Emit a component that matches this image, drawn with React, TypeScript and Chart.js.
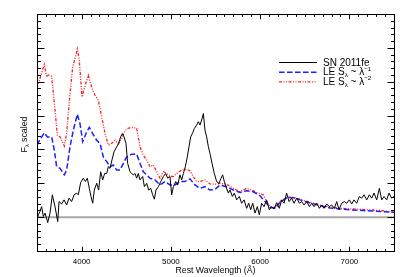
import { useEffect, useRef } from 'react';
import { Chart, registerables } from 'chart.js';
Chart.register(...registerables);

const xRange = [3500, 7500];
const yRange = [-1, 6];
const xTickLabels = [4000, 5000, 6000, 7000];
const zeroLevel = 0;

const snWave = [3500,3515,3534,3552,3571,3590,3620,3646,3672,3702,3732,3747,3776,3803,3832,3859,3888,3915,3944,3963,3989,4019,4042,4064,4086,4105,4124,4142,4169,4191,4213,4236,4258,4281,4299,4318,4340,4363,4393,4415,4437,4456,4475,4497,4516,4542,4561,4579,4598,4617,4635,4654,4684,4703,4729,4751,4774,4796,4815,4833,4860,4886,4916,4942,4964,4990,5009,5028,5054,5076,5102,5121,5140,5162,5184,5203,5222,5244,5263,5289,5308,5326,5345,5364,5382,5401,5420,5438,5461,5487,5513,5539,5562,5580,5599,5618,5644,5663,5689,5711,5737,5767,5793,5820,5849,5872,5894,5917,5943,5969,5991,6017,6044,6073,6103,6129,6156,6186,6215,6241,6268,6297,6324,6354,6380,6410,6439,6466,6492,6522,6552,6578,6604,6634,6664,6690,6716,6746,6776,6802,6832,6858,6884,6914,6944,6970,7000,7026,7052,7082,7112,7138,7164,7194,7224,7250,7276,7306,7336,7362,7388,7418,7444,7474,7500];
const snFlux = [-0.08,0.07,0.17,0.31,0.02,0.12,-0.16,0.12,0.66,0.31,-0.13,0.46,0.39,0.51,0.36,0.56,0.46,0.66,0.71,0.66,1.02,1.15,1.05,1.15,0.85,0.61,0.41,0.8,1.0,0.8,1.34,1.1,1.29,1.29,1.49,1.44,1.69,1.93,2.08,2.18,2.37,2.47,2.37,2.18,1.59,1.34,1.29,1.25,1.29,1.15,1.29,1.1,1.2,0.9,1.0,0.8,0.85,0.66,0.53,0.8,0.9,1.05,1.2,1.29,1.15,1.2,0.66,0.9,1.05,0.95,1.25,1.1,1.29,1.49,1.78,2.08,2.37,2.49,2.62,2.72,2.82,2.72,2.87,3.06,2.57,2.37,2.08,1.88,1.59,1.29,1.05,1.0,1.15,1.25,1.05,0.9,0.71,0.8,0.61,0.71,0.51,0.61,0.41,0.51,0.26,0.41,0.22,0.41,0.12,0.31,0.07,0.41,0.31,0.51,0.22,0.31,0.24,0.43,0.26,0.51,0.41,0.71,0.46,0.56,0.41,0.56,0.41,0.46,0.36,0.46,0.31,0.41,0.31,0.41,0.26,0.36,0.26,0.39,0.31,0.36,0.26,0.46,0.22,0.41,0.46,0.41,0.51,0.39,0.51,0.41,0.61,0.56,0.66,0.51,0.66,0.56,0.71,0.51,0.85,0.51,0.61,0.51,0.71,0.56,0.61];

const le1Wave = [3500,3534,3582,3616,3664,3694,3720,3758,3806,3832,3870,3907,3952,3982,4012,4049,4086,4124,4169,4206,4243,4281,4318,4355,4393,4430,4467,4505,4561,4617,4654,4691,4729,4766,4822,4878,4934,4990,5046,5102,5158,5214,5270,5326,5382,5438,5494,5550,5625,5700,5775,5849,5924,5999,6055,6111,6167,6223,6297,6372,6447,6559,6671,6783,6895,7044,7194,7343,7500];
const le1Flux = [2.13,2.29,2.49,2.37,2.37,1.98,1.49,1.44,1.25,1.39,2.08,2.57,3.04,2.76,2.23,2.47,2.65,2.47,2.27,2.18,1.78,1.64,1.49,1.54,1.39,1.39,1.59,1.78,1.86,1.86,1.59,1.34,1.25,1.15,1.1,0.95,1.05,0.95,0.95,1.05,1.05,1.13,0.95,0.85,0.9,0.8,0.82,0.95,0.9,0.8,0.73,0.78,0.75,0.63,0.46,0.29,0.26,0.43,0.57,0.57,0.51,0.42,0.34,0.27,0.24,0.21,0.19,0.17,0.14];

const le2Wave = [3500,3582,3608,3627,3664,3702,3728,3758,3806,3832,3870,3900,3930,3952,3974,4004,4034,4075,4112,4150,4187,4225,4262,4299,4337,4374,4411,4449,4486,4523,4579,4617,4654,4691,4729,4766,4803,4841,4878,4916,4953,4990,5028,5065,5121,5177,5214,5251,5289,5326,5382,5438,5494,5550,5625,5700,5775,5849,5905,5961,6036,6073,6118,6167,6223,6297,6372,6447,6559,6671,6783,6895,7044,7194,7343,7500];
const le2Flux = [3.82,4.51,4.14,4.2,4.16,3.16,2.42,2.37,2.1,2.47,3.65,4.43,4.73,4.97,4.63,3.55,3.84,4.19,3.84,3.6,3.45,2.96,2.47,2.13,2.18,2.27,2.16,2.32,2.55,2.63,2.65,2.62,2.08,1.83,1.69,1.49,1.54,1.34,1.15,1.34,1.29,1.2,1.2,1.29,1.39,1.41,1.37,1.2,1.05,1.05,1.1,0.98,0.97,1.0,0.97,0.85,0.75,0.85,0.8,0.73,0.66,0.46,0.29,0.29,0.46,0.59,0.59,0.53,0.44,0.36,0.29,0.26,0.24,0.22,0.2,0.15];

type Part = { t: string; sub?: boolean; sup?: boolean };
const legendSN: Part[] = [{ t: 'SN 2011fe' }];
const legendLE1: Part[] = [{ t: 'LE S' }, { t: 'λ', sub: true }, { t: ' ~ λ' }, { t: '−1', sup: true }];
const legendLE2: Part[] = [{ t: 'LE S' }, { t: 'λ', sub: true }, { t: ' ~ λ' }, { t: '−2', sup: true }];
const xTitle = 'Rest Wavelength (Å)';
const yTitle: Part[] = [{ t: 'F' }, { t: 'λ', sub: true }, { t: ' scaled' }];

const FONT = '"Liberation Sans", Arial, Helvetica, sans-serif';

function pts(w: number[], f: number[]) {
  return w.map((x, i) => ({ x, y: f[i] }));
}

function drawParts(ctx: CanvasRenderingContext2D, parts: Part[], x: number, y: number, size: number) {
  let cx = x;
  for (const p of parts) {
    const s = p.sub || p.sup ? size * 0.62 : size;
    ctx.font = `${s}px ${FONT}`;
    const dy = p.sub ? size * 0.3 : p.sup ? -size * 0.38 : 0;
    ctx.fillText(p.t, cx, y + dy);
    cx += ctx.measureText(p.t).width;
  }
  return cx - x;
}

function partsWidth(ctx: CanvasRenderingContext2D, parts: Part[], size: number) {
  let w = 0;
  for (const p of parts) {
    const s = p.sub || p.sup ? size * 0.62 : size;
    ctx.font = `${s}px ${FONT}`;
    w += ctx.measureText(p.t).width;
  }
  return w;
}

const framePlugin = {
  id: 'idlFrame',
  afterDatasetsDraw(chart: any) {
    const { ctx, chartArea: a, scales } = chart;
    const xs = scales.x;
    const ys = scales.y;
    const L = Math.round(a.left) + 0.5;
    const R = Math.round(a.right) + 0.5;
    const T = Math.round(a.top) + 0.5;
    const B = Math.round(a.bottom) + 0.5;
    ctx.save();
    ctx.strokeStyle = '#000';
    ctx.lineWidth = 1;
    ctx.strokeRect(L, T, R - L, B - T);
    ctx.beginPath();
    // x ticks (bottom and top), minor every 100
    for (let i = 36; i <= 74; i++) {
      const v = i * 100;
      const px = Math.round(xs.getPixelForValue(v)) + 0.5;
      const len = v % 1000 === 0 ? 4.7 : 2.4;
      ctx.moveTo(px, B);
      ctx.lineTo(px, B - len);
      ctx.moveTo(px, T);
      ctx.lineTo(px, T + len);
    }
    // y ticks (left and right), minor every 0.2
    for (let i = -4; i <= 29; i++) {
      const v = i / 5;
      const py = Math.round(ys.getPixelForValue(v)) + 0.5;
      const len = i % 5 === 0 ? 7 : 3.5;
      ctx.moveTo(L, py);
      ctx.lineTo(L + len, py);
      ctx.moveTo(R, py);
      ctx.lineTo(R - len, py);
    }
    ctx.stroke();

    // tick labels
    ctx.fillStyle = '#000';
    ctx.textAlign = 'center';
    ctx.textBaseline = 'middle';
    ctx.font = `8px ${FONT}`;
    for (const v of xTickLabels) {
      ctx.fillText(String(v), xs.getPixelForValue(v), a.bottom + 11);
    }
    // x title
    ctx.font = `8.7px ${FONT}`;
    ctx.fillText(xTitle, (a.left + a.right) / 2, a.bottom + 19.5);

    // y title
    ctx.save();
    ctx.translate(24.5, (a.top + a.bottom) / 2 + 2);
    ctx.rotate(-Math.PI / 2);
    ctx.textAlign = 'left';
    const yw = partsWidth(ctx, yTitle, 8.8);
    drawParts(ctx, yTitle, -yw / 2, 0, 8.8);
    ctx.restore();

    // legend
    const rows = [legendSN, legendLE1, legendLE2];
    const dsets = chart.data.datasets;
    ctx.textAlign = 'left';
    rows.forEach((parts, i) => {
      const y = 62.5 + i * 9.7;
      const ds = dsets[i];
      ctx.save();
      ctx.strokeStyle = ds.borderColor;
      ctx.lineWidth = ds.borderWidth;
      ctx.setLineDash(ds.borderDash || []);
      ctx.beginPath();
      ctx.moveTo(279, y);
      ctx.lineTo(317, y);
      ctx.stroke();
      ctx.restore();
      ctx.fillStyle = '#000';
      drawParts(ctx, parts, 323, y + 0.5, 10);
    });
    ctx.restore();
  },
};

export default function App() {
  const ref = useRef<HTMLCanvasElement | null>(null);
  useEffect(() => {
    if (!ref.current) return;
    const chart = new Chart(ref.current, {
      type: 'line',
      data: {
        datasets: [
          {
            label: 'SN 2011fe',
            data: pts(snWave, snFlux),
            borderColor: '#000000',
            borderWidth: 1,
            borderDash: [],
          },
          {
            label: 'LE S ~ λ^-1',
            data: pts(le1Wave, le1Flux),
            borderColor: '#1f1fff',
            borderWidth: 1.5,
            borderDash: [5.5, 2.5],
          },
          {
            label: 'LE S ~ λ^-2',
            data: pts(le2Wave, le2Flux),
            borderColor: '#ff1f1f',
            borderWidth: 1.3,
            borderDash: [3, 1.5, 1, 1.5, 1, 1.5],
          },
          {
            label: 'zero',
            data: [
              { x: xRange[0], y: zeroLevel },
              { x: xRange[1], y: zeroLevel },
            ],
            borderColor: '#a8a8a8',
            borderWidth: 2,
            borderDash: [],
          },
        ],
      },
      options: {
        animation: false,
        responsive: false,
        events: [],
        layout: { padding: { left: 37, right: 21, top: 14, bottom: 26 } },
        elements: { point: { radius: 0 }, line: { tension: 0, fill: false } },
        plugins: { legend: { display: false }, tooltip: { enabled: false } },
        scales: {
          x: { type: 'linear', min: xRange[0], max: xRange[1], display: false },
          y: { type: 'linear', min: yRange[0], max: yRange[1], display: false },
        },
      },
      plugins: [framePlugin],
    });
    return () => chart.destroy();
  }, []);
  return (
    <div style={{ position: 'absolute', left: 0, top: 0, width: 415, height: 277, background: '#fff' }}>
      <canvas ref={ref} width={415} height={277} style={{ width: 415, height: 277 }} />
    </div>
  );
}
